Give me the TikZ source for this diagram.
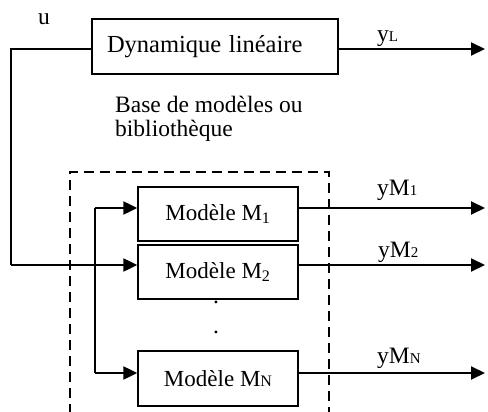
\documentclass[tikz,border=0pt]{standalone}
\usepackage{fontspec}
\setmainfont{Liberation Serif}
\usetikzlibrary{arrows.meta}
\begin{document}
\begin{tikzpicture}[x=1pt,y=-1pt,
  txt/.style={font=\fontsize{23.5}{24}\selectfont, inner sep=0pt},
  boxstyle/.style={draw, line width=1.3pt, inner sep=0pt, font=\fontsize{23}{24}\selectfont},
  conn/.style={line width=2pt},
  arr/.style={line width=2pt, -{Triangle[length=14pt,width=13pt]}},
  dashbox/.style={line width=2pt, dash pattern=on 10pt off 6pt},
  sm/.style={font=\fontsize{15}{16}\selectfont}]
\useasboundingbox (0,0) rectangle (488,412);
% boxes
\node[boxstyle, minimum width=246pt, minimum height=55pt, text width=216pt, align=left, inner xsep=15pt] (dyn) at (215,46.5) {\fontsize{24.5}{25}\selectfont Dynamique linéaire};
\node[boxstyle, minimum width=160pt, minimum height=54pt] (m1) at (218,214) {Modèle M\textsubscript{1}};
\node[boxstyle, minimum width=160pt, minimum height=54pt] (m2) at (218,272) {Modèle M\textsubscript{2}};
\node[boxstyle, minimum width=160pt, minimum height=55pt] (mn) at (218,378.5) {Modèle M{\fontsize{16}{17}\selectfont N}};
% coordinates
\coordinate (c1) at (11,49);
\coordinate (c2) at (11,265);
\coordinate (s1) at (95,208);
\coordinate (sn) at (95,373);
\coordinate (yLend) at (485,49);
\coordinate (y1end) at (485,208);
\coordinate (y2end) at (485,265);
\coordinate (ynend) at (485,373);
% dashed library box
\coordinate (dbl) at (70,414);
\coordinate (dtl) at (70,172);
\coordinate (dtr) at (329,172);
\coordinate (dbr) at (329,414);
\draw[dashbox] (dbl) -- (dtl) -- (dtr) -- (dbr);
% connectors
\draw[conn] (dyn.west |- c1) -- (c1) -- (c2);
\draw[arr] (c2) -- (m2.west |- c2);
\draw[conn] (s1) -- (sn);
\draw[arr] (s1) -- (m1.west |- s1);
\draw[arr] (sn) -- (mn.west |- sn);
\draw[arr] (dyn.east |- c1) -- (yLend);
\draw[arr] (m1.east |- y1end) -- (y1end);
\draw[arr] (m2.east |- y2end) -- (y2end);
\draw[arr] (mn.east |- ynend) -- (ynend);
% labels
\node[txt, anchor=base west] (u) at (38,25) {u};
\node[txt, anchor=base west] (yL) at (377,42) {y{\fontsize{15}{16}\selectfont L}};
\node[txt, anchor=base west] (yM1) at (377,195) {yM{\fontsize{15}{16}\selectfont 1}};
\node[txt, anchor=base west] (yM2) at (378,257) {yM{\fontsize{15}{16}\selectfont 2}};
\node[txt, anchor=base west] (yMN) at (377,363) {yM{\fontsize{15}{16}\selectfont N}};
\node[txt, anchor=base west, align=left] (base) at (115,136) {Base de modèles ou\\bibliothèque};
\node[txt, anchor=base] (d1) at (216,303.3) {.};
\node[txt, anchor=base] (d2) at (216,333.3) {.};
\end{tikzpicture}
\end{document}
